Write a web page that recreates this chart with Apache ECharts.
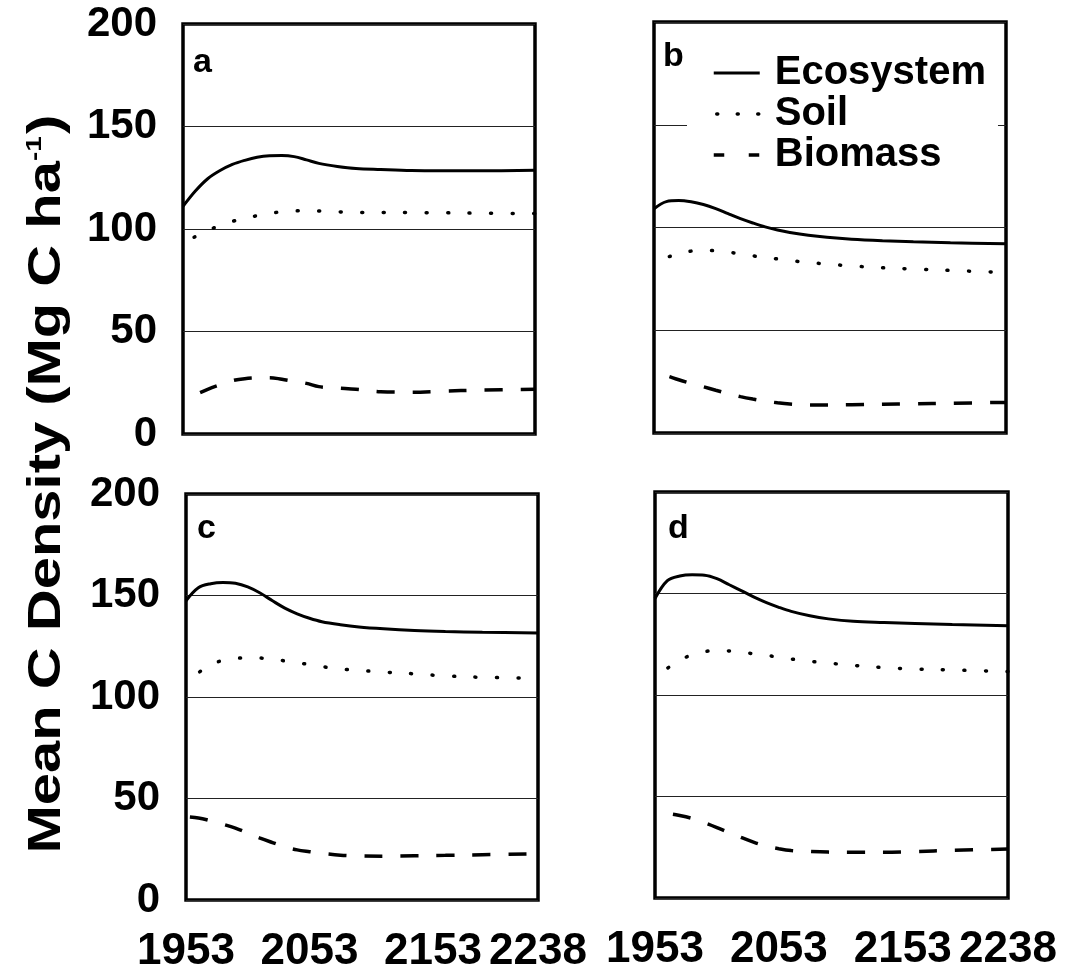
<!DOCTYPE html>
<html>
<head>
<meta charset="utf-8">
<script src="https://cdn.jsdelivr.net/npm/echarts@6/dist/echarts.min.js"></script>
<style>
html,body{margin:0;padding:0;background:#fff;}
#chart{width:1077px;height:979px;}
</style>
</head>
<body>
<div id="chart"></div>
<script>
// ---- data ----
const years = [1953, 1963, 1973, 1983, 1993, 2003, 2013, 2023, 2033, 2043, 2053, 2063, 2078, 2093, 2113, 2138, 2163, 2193, 2238];
const xTickLabels = [1953, 2053, 2153, 2238];
const panelNames = ['a', 'b', 'c', 'd'];
const seriesNames = ['Ecosystem', 'Soil', 'Biomass'];

const aEco  = [111, 118.5, 124.5, 128.5, 131.5, 133.5, 135, 135.7, 135.8, 135.3, 133.7, 132, 130.5, 129.5, 129, 128.5, 128.4, 128.4, 128.6];
const aSoil = [93.5, 96.3, 99.3, 101.7, 103.7, 105.3, 106.5, 107.6, 108.4, 108.8, 108.9, 108.8, 108.4, 108.1, 108.1, 108, 107.9, 107.7, 107.5];
const aBio  = [16.5, 19.2, 21.8, 24, 26, 27, 27.4, 27.5, 26.7, 25.7, 24.7, 23.1, 22.4, 21.8, 20.6, 20.4, 20.9, 21.4, 21.8];

const bEco  = [109.1, 112.6, 113.1, 112.5, 111.2, 109.2, 106.7, 104.3, 102.2, 100.3, 98.8, 97.6, 96.2, 95.2, 94.3, 93.6, 93.1, 92.6, 92.1];
const bSoil = [83.5, 85.4, 87.2, 88.5, 88.8, 88.7, 88, 87.2, 86.2, 85.4, 84.7, 83.9, 83, 82.2, 81.3, 80.4, 79.8, 79.1, 78.1];
const bBio  = [29.6, 27.9, 25.9, 24.1, 22.5, 20.8, 19.2, 17.7, 16.5, 15.5, 14.7, 14.1, 13.6, 13.6, 13.8, 14, 14.2, 14.5, 14.9];

const cEco  = [147.4, 153.8, 155.8, 156.4, 156, 154.2, 151.2, 147.4, 143.8, 141, 138.8, 137.1, 135.6, 134.5, 133.6, 132.8, 132.3, 131.9, 131.5];
const cSoil = [108.5, 112, 115.8, 118.1, 119, 119.3, 119.2, 118.6, 117.8, 116.9, 116, 115, 113.8, 113.1, 112.3, 111.4, 110.4, 109.7, 109.3];
const cBio  = [41, 40.4, 39, 37.3, 35.4, 33, 30.5, 28.3, 26.2, 24.7, 23.8, 23, 22.1, 21.7, 21.6, 21.8, 22, 22.3, 22.7];

const dEco  = [147.5, 156.3, 158.6, 159.2, 159, 157.3, 154.3, 151.3, 148.2, 145.5, 143.2, 141.2, 139, 137.5, 136.3, 135.7, 135.2, 134.7, 134.1];
const dSoil = [109.5, 113.2, 117.2, 119.8, 121.4, 121.8, 121.7, 121, 120.3, 119.5, 118.6, 117.7, 116.6, 115.7, 114.6, 113.5, 112.8, 112.3, 111.6];
const dBio  = [42, 41.6, 40.6, 39.2, 37.1, 34.7, 32.1, 29.7, 27.4, 25.6, 24.3, 23.4, 22.9, 22.6, 22.5, 22.5, 22.9, 23.5, 24.1];

const panelData = [[aEco, aSoil, aBio], [bEco, bSoil, bBio], [cEco, cSoil, cBio], [dEco, dSoil, dBio]];

// ---- layout / style ----
const FONT = "'Liberation Sans', Arial, Helvetica, sans-serif";
const grids = [
  {left: 183, top: 24, width: 352, height: 410},
  {left: 654, top: 22, width: 352, height: 411},
  {left: 186, top: 494, width: 352, height: 406},
  {left: 655, top: 492, width: 353, height: 406}
];
const soilOffsets = [9.5, 5.5, 5.8, 6.5];
const bioOffsets = [17.3, 20, 32, 18];
const hiddenSymbol = {color: 'rgba(0,0,0,0)', opacity: 0, borderWidth: 0};

const option = {
  backgroundColor: '#fff',
  animation: false,
  grid: grids.map(g => Object.assign({show: true, borderColor: '#000', borderWidth: 3.5, backgroundColor: 'transparent'}, g)),
  xAxis: grids.map((g, i) => ({
    type: 'value', gridIndex: i, min: 1953, max: 2238,
    axisLine: {show: false}, axisTick: {show: false}, splitLine: {show: false},
    axisLabel: {
      show: i >= 2, customValues: xTickLabels, fontSize: 44, fontWeight: 'bold',
      color: '#000', fontFamily: FONT, margin: 30, hideOverlap: false,
      showMinLabel: true, showMaxLabel: true,
      formatter: v => String(v)
    }
  })),
  yAxis: grids.map((g, i) => ({
    type: 'value', gridIndex: i, min: 0, max: 200, interval: 50,
    axisLine: {show: false}, axisTick: {show: false},
    splitLine: {show: true, lineStyle: {color: '#222', width: 1}},
    axisLabel: {
      show: i % 2 === 0, fontSize: 42, fontWeight: 'bold', color: '#000',
      fontFamily: FONT, margin: 26
    }
  })),
  legend: {
    show: true, orient: 'vertical', left: 687, top: 53,
    backgroundColor: '#fff', padding: [0, 12, 2, 25],
    itemWidth: 46, itemHeight: 20, itemGap: 1, selectedMode: false,
    formatter: name => '{g|}{t|' + name + '}',
    textStyle: {
      color: '#000',
      rich: {
        g: {width: 10},
        t: {fontSize: 40, fontWeight: 'bold', color: '#000', fontFamily: FONT}
      }
    },
    data: [
      {name: 'Ecosystem', itemStyle: hiddenSymbol,
       lineStyle: {type: 'solid', width: 3, color: '#000', dashOffset: 0}},
      {name: 'Soil', itemStyle: hiddenSymbol,
       lineStyle: {type: [1, 19.5], dashOffset: -3, cap: 'round', width: 3.5, color: '#000'}},
      {name: 'Biomass', itemStyle: hiddenSymbol,
       lineStyle: {type: [10.5, 24.5], dashOffset: 0, width: 3.5, color: '#000'}}
    ]
  },
  series: [],
  graphic: []
};

panelData.forEach((arrs, i) => {
  arrs.forEach((arr, k) => {
    let ls;
    if (k === 0) ls = {type: 'solid', width: 3, color: '#000'};
    else if (k === 1) ls = {type: [1, 20.5], cap: 'round', width: 3.5, color: '#000', dashOffset: soilOffsets[i]};
    else ls = {type: [18, 18], width: 3.5, color: '#000', dashOffset: bioOffsets[i]};
    option.series.push({
      type: 'line', name: seriesNames[k], xAxisIndex: i, yAxisIndex: i,
      data: years.map((y, j) => [y, arr[j]]),
      smooth: 0.35, showSymbol: false, symbol: 'none',
      itemStyle: {color: '#000'},
      lineStyle: ls, z: 3, silent: true
    });
  });
});

// panel letters
const letterPos = [[193, 66], [663, 60], [197, 532], [668, 532]];
panelNames.forEach((n, i) => {
  option.graphic.push({
    type: 'text', left: letterPos[i][0], top: letterPos[i][1] - 20, z: 10,
    style: {text: n, font: 'bold 34px ' + FONT, fill: '#000'}
  });
});

// y axis title
option.graphic.push({
  type: 'text', x: 47, y: 484, rotation: Math.PI / 2, scaleX: 1.26, z: 10,
  style: {
    text: '{m|Mean C Density (Mg C ha}{s|-1}{m|)}',
    align: 'center', verticalAlign: 'middle', fill: '#000',
    rich: {
      m: {font: 'bold 46px ' + FONT, fill: '#000'},
      s: {font: 'bold 22px ' + FONT, fill: '#000', verticalAlign: 'top', padding: [0, 2, 18, 0]}
    }
  }
});

const chart = echarts.init(document.getElementById('chart'), null, {renderer: 'canvas'});
chart.setOption(option);
</script>
</body>
</html>
